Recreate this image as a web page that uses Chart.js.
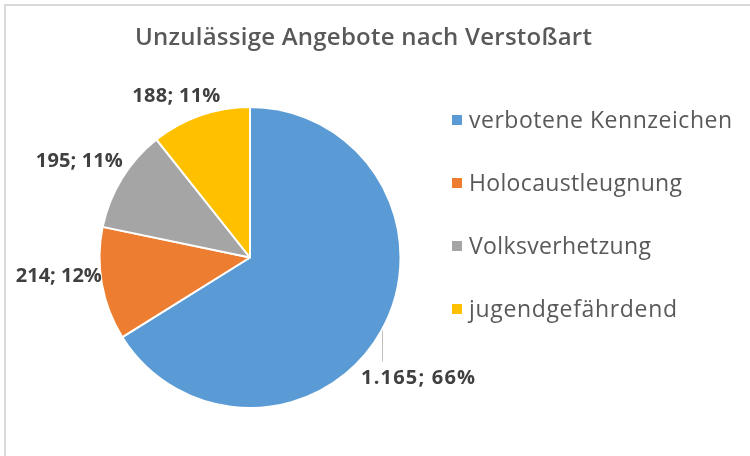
<!DOCTYPE html>
<html>
<head>
<meta charset="utf-8">
<script src="https://cdn.jsdelivr.net/npm/chart.js@4/dist/chart.umd.min.js"></script>
<style>
  html, body { margin: 0; padding: 0; background: #fff; }
  #wrap { position: relative; width: 750px; height: 456px; overflow: hidden; }
  #frame { position: absolute; left: 4px; top: 4px; width: 800px; height: 500px;
           border-left: 2px solid #d9d9d9; border-top: 2px solid #d9d9d9; pointer-events: none; }
  canvas { position: absolute; left: 0; top: 0; }
</style>
</head>
<body>
<div id="wrap">
  <canvas id="c" width="750" height="456"></canvas>
  <div id="frame"></div>
</div>
<script>
const title = "Unzulässige Angebote nach Verstoßart";
const categories = ["verbotene Kennzeichen", "Holocaustleugnung", "Volksverhetzung", "jugendgefährdend"];
const values = [1165, 214, 195, 188];
const colors = ["#5B9BD5", "#ED7D31", "#A5A5A5", "#FFC000"];

const FONT = "'Open Sans', 'Noto Sans', sans-serif";

function fmtDe(n) {
  return String(n).replace(/\B(?=(\d{3})+(?!\d))/g, ".");
}

function fitSpacing(ctx, text, target) {
  ctx.letterSpacing = "0px";
  const w = ctx.measureText(text).width;
  const n = [...text].length;
  const s = (target - w) / Math.max(1, n - 1);
  ctx.letterSpacing = s.toFixed(2) + "px";
}

const decor = {
  id: "decor",
  afterDraw(chart) {
    const ctx = chart.ctx;
    ctx.save();
    // Title
    ctx.fillStyle = "#595959";
    ctx.font = "600 24px " + FONT;
    ctx.textAlign = "left";
    ctx.textBaseline = "alphabetic";
    fitSpacing(ctx, title, 457);
    ctx.fillText(title, 135, 45);

    // Legend
    const legW = [263, 213, 182, 208];
    ctx.font = "23px " + FONT;
    categories.forEach((cat, i) => {
      const base = 128 + i * 63;
      ctx.fillStyle = colors[i];
      ctx.letterSpacing = "0px";
      ctx.fillRect(452, base - 13, 10, 10);
      ctx.fillStyle = "#595959";
      ctx.textAlign = "left";
      fitSpacing(ctx, cat, legW[i]);
      ctx.fillText(cat, 469, base);
    });
    ctx.letterSpacing = "0px";

    // Data labels
    const meta = chart.getDatasetMeta(0);
    const total = values.reduce((a, b) => a + b, 0);
    const offs = [[37, 48], [-43, -8], [-42.5, -17], [-24, -19.5]];
    const labW = [114, 86, 87, 88];
    ctx.font = "bold 20px " + FONT;
    ctx.textAlign = "center";
    ctx.textBaseline = "middle";
    meta.data.forEach((arc, i) => {
      const p = arc.getProps(["x", "y", "startAngle", "endAngle", "outerRadius"], true);
      const mid = (p.startAngle + p.endAngle) / 2;
      const px = p.x + Math.cos(mid) * p.outerRadius;
      const py = p.y + Math.sin(mid) * p.outerRadius;
      if (i === 0) {
        ctx.letterSpacing = "0px";
        ctx.strokeStyle = "#bfbfbf";
        ctx.lineWidth = 1;
        ctx.beginPath();
        ctx.moveTo(Math.round(px) + 0.5, py);
        ctx.lineTo(Math.round(px) + 0.5, py + 31);
        ctx.stroke();
      }
      const txt = fmtDe(values[i]) + "; " + Math.round(values[i] / total * 100) + "%";
      ctx.fillStyle = "#404040";
      fitSpacing(ctx, txt, labW[i]);
      ctx.fillText(txt, px + offs[i][0], py + offs[i][1]);
    });
    ctx.restore();
  }
};

new Chart(document.getElementById("c"), {
  type: "pie",
  data: {
    labels: categories,
    datasets: [{
      data: values,
      backgroundColor: colors,
      borderColor: "#ffffff",
      borderWidth: 2
    }]
  },
  options: {
    responsive: false,
    animation: false,
    layout: { padding: { left: 98, right: 348, top: 106, bottom: 47 } },
    plugins: { legend: { display: false }, tooltip: { enabled: false }, title: { display: false } }
  },
  plugins: [decor]
});
</script>
</body>
</html>
